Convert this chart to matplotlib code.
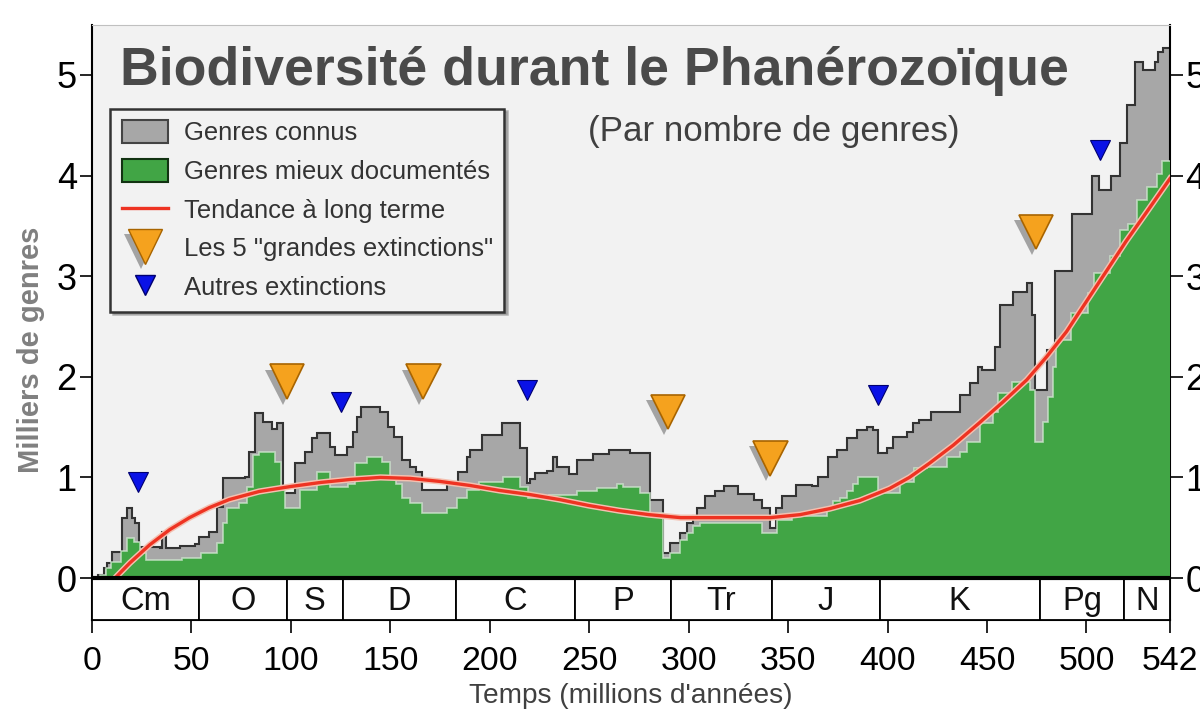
import matplotlib
matplotlib.use("Agg")
import matplotlib.pyplot as plt
import matplotlib.patheffects as pe
from matplotlib import font_manager
from matplotlib.patches import Patch, Rectangle
from matplotlib.lines import Line2D

# ---- data ----
# genres connus : debut de chaque palier (Ma depuis le debut du Cambrien) et valeur (milliers)
gray_x = [0, 3, 6, 7.5, 10, 15, 17.5, 20, 21.5, 23.5, 34, 35, 37, 44, 52, 54, 59, 63, 66, 77,
          79, 82, 86, 90.5, 93, 96, 102, 107, 110.5, 113, 119.5, 122, 128, 131, 133, 135, 145,
          149, 152, 156, 160, 163, 166, 178.5, 184, 188.5, 190, 196, 206, 215, 218.5, 220,
          222.5, 229, 232, 234, 240, 244, 252, 260, 270.5, 280.5, 287, 290.5, 295.5, 299, 302,
          304, 308, 313, 318, 325, 333, 337, 341, 344, 347, 354, 362, 365, 370, 374.5, 379.5,
          384.5, 389.5, 392.5, 395, 399.5, 402.5, 410, 413, 416, 422, 436.5, 441.5, 445.5,
          447.5, 454, 456.5, 463, 470, 472.5, 474, 480, 484, 492.5, 503, 506.5, 512.5, 517,
          520.5, 524.5, 528.5, 534.5, 536, 538.5]
gray_y = [0.0, 0.03, 0.1, 0.15, 0.26, 0.6, 0.7, 0.6, 0.55, 0.31, 0.3, 0.46, 0.3, 0.32, 0.34,
          0.41, 0.46, 0.71, 0.99, 1.0, 1.25, 1.64, 1.55, 1.48, 1.54, 0.85, 1.14, 1.25, 1.39,
          1.44, 1.3, 1.22, 1.3, 1.45, 1.6, 1.7, 1.65, 1.5, 1.4, 1.17, 1.1, 1.05, 0.87, 0.95,
          1.05, 1.2, 1.27, 1.42, 1.54, 1.29, 0.94, 0.98, 1.04, 1.06, 1.2, 1.1, 1.03, 1.17, 1.23,
          1.27, 1.24, 0.78, 0.25, 0.35, 0.45, 0.55, 0.62, 0.7, 0.82, 0.86, 0.91, 0.84, 0.78,
          0.7, 0.5, 0.7, 0.82, 0.92, 0.91, 1.0, 1.2, 1.27, 1.39, 1.47, 1.5, 1.47, 1.24, 1.29,
          1.4, 1.45, 1.54, 1.57, 1.65, 1.82, 1.94, 2.1, 2.07, 2.3, 2.71, 2.84, 2.93, 2.61, 1.87,
          2.27, 3.05, 3.62, 4.0, 3.86, 4.0, 4.32, 4.7, 5.13, 5.05, 5.13, 5.23, 5.27]

# genres mieux documentes
green_x = [0, 4, 7, 9.5, 14.5, 17.5, 21, 24, 27, 45, 55, 63, 66, 68, 74, 78, 81, 84, 92, 95,
           97, 104.5, 113, 119.5, 128.5, 132, 138, 146, 150, 153, 156, 160, 166, 178.5, 183.5,
           188.5, 194.5, 206.5, 215, 219, 230, 244, 254, 264, 267, 275.5, 280.5, 287, 290.5,
           295.5, 299, 302, 305.5, 337, 344.5, 352, 369.5, 372.5, 376, 379.5, 382.5, 385, 395,
           406, 413.5, 420, 430, 436.5, 440, 446.5, 453, 455.5, 462.5, 471.5, 474, 478, 480.5,
           483, 484.5, 492, 501, 504, 512, 517, 521, 525.5, 530.5, 535.5, 538]
green_y = [0.0, 0.03, 0.1, 0.16, 0.27, 0.4, 0.36, 0.25, 0.18, 0.2, 0.25, 0.35, 0.55, 0.7, 0.75,
           0.9, 1.22, 1.25, 1.15, 0.87, 0.7, 0.87, 1.05, 0.9, 0.93, 1.14, 1.2, 1.15, 1.0, 0.93,
           0.8, 0.75, 0.65, 0.7, 0.8, 0.87, 0.95, 1.0, 0.9, 0.8, 0.83, 0.86, 0.89, 0.93, 0.9,
           0.85, 0.65, 0.2, 0.25, 0.38, 0.45, 0.52, 0.55, 0.45, 0.58, 0.62, 0.7, 0.77, 0.8, 0.86,
           0.93, 1.0, 0.85, 0.95, 1.09, 1.1, 1.2, 1.25, 1.35, 1.54, 1.65, 1.84, 1.95, 1.87, 1.35,
           1.55, 1.8, 2.1, 2.37, 2.63, 2.83, 3.03, 3.2, 3.46, 3.52, 3.76, 3.89, 4.02, 4.15]

# tendance a long terme
trend_x = [11.6, 19, 29, 39, 49, 59, 69, 84, 100, 115, 130, 145, 160, 175, 190, 205, 220, 235,
           250, 265, 280, 296, 311, 326, 341, 356, 371, 386, 401, 411, 421, 433, 446, 458, 470,
           480, 490, 500, 510, 520, 530, 542]
trend_y = [0.0, 0.15, 0.33, 0.48, 0.6, 0.7, 0.78, 0.86, 0.91, 0.95, 0.98, 1.0, 0.99, 0.96,
           0.92, 0.87, 0.83, 0.78, 0.72, 0.67, 0.63, 0.6, 0.6, 0.6, 0.6, 0.63, 0.69, 0.77, 0.89,
           1.0, 1.14, 1.32, 1.54, 1.75, 1.97, 2.2, 2.45, 2.75, 3.05, 3.35, 3.63, 3.97]

big_x = [98, 166.5, 289.6, 341, 474.6]
big_y = [1.95, 1.95, 1.65, 1.19, 3.44]
other_x = [23, 125, 218.7, 395, 507]
other_y = [0.95, 1.75, 1.87, 1.82, 4.25]

periods = ["Cm", "O", "S", "D", "C", "P", "Tr", "J", "K", "Pg", "N"]
period_edges = [0, 54, 98, 126, 183, 243, 291, 342, 396, 476.5, 519, 542]
xticks = [0, 50, 100, 150, 200, 250, 300, 350, 400, 450, 500, 542]

# ---- fonts ----
names = {f.name for f in font_manager.fontManager.ttflist}
if "Liberation Sans Narrow" in names:
    FONT, k = "Liberation Sans Narrow", 1.0
else:
    FONT, k = "Liberation Sans", 0.84
plt.rcParams["font.family"] = [FONT, "DejaVu Sans"]

X_END = 542
Y_BOT = -0.417

fig = plt.figure(figsize=(12, 7.1), dpi=100)
ax = fig.add_axes([0.0767, 0.1268, 0.8983, 0.838])
ax.set_facecolor("#f2f2f2")

# step areas
ax.stairs(gray_y, gray_x + [X_END], fill=True, color="#a7a7a7", zorder=1)
ax.stairs(gray_y, gray_x + [X_END], baseline=None, color="#333333", lw=1.5, zorder=2)
ax.stairs(green_y, green_x + [X_END], fill=True, color="#41a545", zorder=3)
ax.stairs(green_y, green_x + [X_END], baseline=None, color="#cfe6cf", lw=1.2, alpha=0.8, zorder=4)

# trend
ax.plot(trend_x, trend_y, color="#ee3322", lw=2.4, zorder=5,
        path_effects=[pe.Stroke(linewidth=4.5, foreground="#f4c0b0"), pe.Normal()])

# extinctions
shadow = [pe.SimplePatchShadow(offset=(-3, -4), shadow_rgbFace="#555555", alpha=0.5), pe.Normal()]
ax.plot(big_x, big_y, "v", ms=25, color="#f5a21e", mec="#a86400", mew=1.2, ls="none",
        zorder=7, path_effects=shadow)
ax.plot(other_x, other_y, "v", ms=15, color="#0a12e6", mec="#000070", mew=0.8, ls="none",
        zorder=7)

# geological periods band
ax.axhline(0, color="black", lw=3, zorder=8)
for i, name in enumerate(periods):
    x0, x1 = period_edges[i], period_edges[i + 1]
    ax.add_patch(Rectangle((x0, Y_BOT), x1 - x0, -Y_BOT, facecolor="white",
                           edgecolor="black", lw=1.3, zorder=6))
    ax.text((x0 + x1) / 2, Y_BOT / 2 - 0.02, name, ha="center", va="center",
            fontsize=28 * k, color="#111111", zorder=9)

ax.set_xlim(0, X_END)
ax.set_ylim(Y_BOT, 5.497)
ax.set_xticks(xticks)
ax.set_yticks([0, 1, 2, 3, 4, 5])
ax.tick_params(axis="x", direction="out", length=9, width=1.2, labelsize=29 * k, pad=10)
ax.tick_params(axis="y", direction="out", length=9, width=1.2, labelsize=31 * k,
               right=True, labelright=True, pad=2)
for s in ["left", "right", "bottom"]:
    ax.spines[s].set_linewidth(1.5)
ax.spines["top"].set_color("#c0c0c0")

ax.set_xlabel("Temps (millions d'années)", fontsize=24 * k, color="#404040", labelpad=4)
ax.set_ylabel("Milliers de genres", fontsize=25 * k, color="#808080", fontweight="bold")
ax.yaxis.set_label_coords(-0.044, 0.454)

# titles
fig.text(0.1, 0.9, "Biodiversité durant le Phanérozoïque", fontsize=46 * k,
         fontweight="bold", color="#4a4a4a", va="center", ha="left")
fig.text(0.49, 0.815, "(Par nombre de genres)", fontsize=30 * k, color="#404040",
         va="center", ha="left")

# legend
handles = [
    Patch(facecolor="#a7a7a7", edgecolor="#444444", lw=1.5),
    Patch(facecolor="#41a545", edgecolor="#123312", lw=1.5),
    Line2D([], [], color="#ee3322", lw=2.4),
    Line2D([], [], marker="v", ms=25, color="#f5a21e", mec="#a86400", ls="none",
           path_effects=shadow),
    Line2D([], [], marker="v", ms=15, color="#0a12e6", mec="#000070", ls="none"),
]
labels = ["Genres connus", "Genres mieux documentés", "Tendance à long terme",
          'Les 5 "grandes extinctions"', "Autres extinctions"]
leg = ax.legend(handles, labels, loc="upper left", bbox_to_anchor=(0.092, 0.847, 0, 0),
                bbox_transform=fig.transFigure, fontsize=22 * k, frameon=True,
                fancybox=False, edgecolor="#333333", facecolor="#f2f2f2", framealpha=1,
                labelspacing=0.52, handlelength=1.8, handleheight=1.0, borderpad=0.45,
                handletextpad=0.6, borderaxespad=0, shadow={"color": "#888888", "alpha": 0.6})
leg.get_frame().set_linewidth(1.8)
leg.set_zorder(10)
for t in leg.get_texts():
    t.set_color("#333333")

fig.savefig("out.png", dpi=100, facecolor="white")
